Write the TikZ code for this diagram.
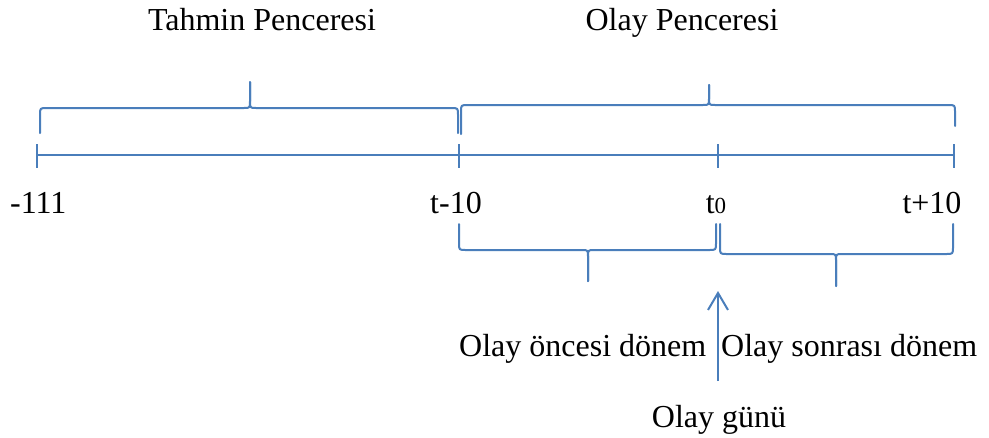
\documentclass[tikz,border=0pt]{standalone}
\usepackage{fontspec}
\setmainfont{Liberation Serif}
\usetikzlibrary{arrows.meta}
\definecolor{lineblue}{HTML}{4A7EBB}
\tikzset{
  axisline/.style={draw=lineblue, line width=2pt},
  bracepath/.style={draw=lineblue, line width=2pt, line join=round, line cap=round},
  lbl/.style={font=\fontsize{32}{38}\selectfont, inner sep=0pt, anchor=base},
  evarrow/.style={draw=lineblue, line width=2pt, -{Straight Barb[length=17pt,width=20pt,line width=2pt]}},
}
% x1 x2 xm ybar yL yR ytip d(+1: ends below bar, -1: ends above bar)
\newcommand{\mybrace}[8]{%
  \draw[bracepath] (#1,#5) -- (#1,#4+#8*7) .. controls (#1,#4) .. (#1+7,#4)
     -- (#3-6,#4) .. controls (#3,#4) .. (#3,#4-#8*7) -- (#3,#7);
  \draw[bracepath] (#3,#7) -- (#3,#4-#8*7) .. controls (#3,#4) .. (#3+6,#4)
     -- (#2-7,#4) .. controls (#2,#4) .. (#2,#4+#8*7) -- (#2,#6);
}
\begin{document}
\begin{tikzpicture}[x=1pt,y=-1pt]
\useasboundingbox (0,0) rectangle (989,437);
% axis
\coordinate (a0) at (37,155);
\coordinate (a1) at (459,155);
\coordinate (a2) at (718,155);
\coordinate (a3) at (954,155);
\draw[axisline] (a0) -- (a3);
\foreach \p in {a0,a1,a2,a3}{
  \draw[axisline] ([yshift=11pt]\p) -- ([yshift=-13pt]\p);
}
% top braces
\mybrace{40}{458}{250}{108}{133}{133}{82}{1}
\mybrace{461}{955}{709}{105}{134}{126}{85}{1}
% bottom braces
\mybrace{459}{716}{588}{250}{224}{224}{281}{-1}
\mybrace{720}{953}{836}{254}{224}{224}{286}{-1}
% labels
\node[lbl] (tahmin) at (262,30) {Tahmin Penceresi};
\node[lbl] (olaypen) at (682,30) {Olay Penceresi};
\node[lbl,anchor=base west] (m111) at (10,213) {-111};
\node[lbl] (tm10) at (456,213) {t-10};
\node[lbl] (t0) at (716,213) {t{\fontsize{23}{26}\selectfont 0}};
\node[lbl] (tp10) at (932,213) {t+10};
\node[lbl,anchor=base west] (once) at (459,356) {Olay öncesi dönem};
\node[lbl,anchor=base west] (sonra) at (721,356) {Olay sonrası dönem};
\node[lbl] (gunu) at (719,427) {Olay günü};
% event arrow
\coordinate (arrbot) at (718,381);
\coordinate (arrtip) at (718,291);
\draw[evarrow] (arrbot) -- (arrtip);
\end{tikzpicture}
\end{document}
